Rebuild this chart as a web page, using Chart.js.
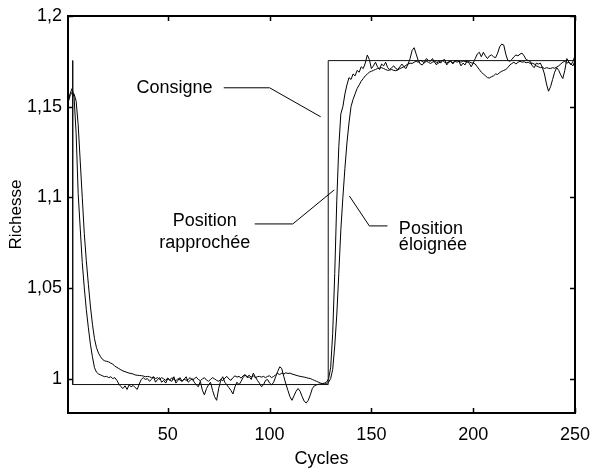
<!DOCTYPE html>
<html><head><meta charset="utf-8">
<script src="https://cdn.jsdelivr.net/npm/chart.js@4/dist/chart.umd.min.js"></script>
<style>html,body{margin:0;padding:0;background:#fff}#wrap{width:590px;height:471px;position:relative}</style>
</head><body><div id="wrap"><canvas id="c" width="590" height="471"></canvas></div>
<script>
// ---------- DATA ----------
const cycles = Array.from({length: 250}, (_, i) => i + 1);

const rapprochee = [
1.153,1.157,1.160,1.155,1.135,1.102,1.083,1.064,1.050,1.038,
1.028,1.019,1.012,1.006,1.0035,1.0025,1.002,1.0015,1.001,1.0012,
1.0005,1.001,1.000,1.0005,0.999,0.997,0.9955,0.9945,0.996,0.994,
0.9965,0.9955,0.9962,0.995,0.994,0.997,0.9995,1.0005,0.9995,1.000,
0.9985,0.9995,1.001,0.998,0.9995,1.0005,0.998,0.999,0.9975,1.000,
0.999,0.9985,1.001,0.9975,0.999,1.0005,0.9985,0.9995,1.001,0.998,
0.999,1.000,0.998,0.9965,0.9955,0.9985,0.9935,0.991,0.9945,0.9965,
0.998,0.9935,0.990,0.988,0.9945,0.999,1.001,0.998,0.9965,0.995,
0.9935,0.9915,0.9955,0.998,0.9965,0.9985,1.0005,1.002,1.0005,1.001,
0.9995,1.003,1.001,0.999,0.9975,0.9955,0.9965,0.999,0.9995,0.9975,
0.9965,0.998,1.001,1.004,1.0065,1.0055,1.001,0.997,0.9935,0.990,
0.988,0.9905,0.993,0.9945,0.993,0.990,0.9875,0.9865,0.988,0.991,
0.9945,0.996,0.9965,0.9968,0.997,0.9972,0.9975,0.998,1.000,1.006,
1.025,1.058,1.098,1.128,1.146,1.150,1.157,1.162,1.166,1.165,
1.168,1.167,1.170,1.169,1.172,1.171,1.174,1.1785,1.176,1.171,
1.1725,1.1745,1.172,1.1705,1.1735,1.1725,1.1745,1.1715,1.1705,1.1715,
1.1725,1.171,1.1705,1.172,1.1735,1.172,1.171,1.1735,1.1765,1.181,
1.1825,1.179,1.1755,1.1735,1.173,1.1745,1.1765,1.1755,1.175,1.1765,
1.1745,1.173,1.1755,1.174,1.1755,1.176,1.173,1.1745,1.175,1.1735,
1.1755,1.1745,1.175,1.1725,1.174,1.173,1.1755,1.174,1.172,1.174,
1.1765,1.179,1.180,1.1775,1.180,1.178,1.1765,1.178,1.1785,1.1775,
1.177,1.1795,1.183,1.1845,1.184,1.179,1.1755,1.175,1.176,1.1775,
1.1785,1.178,1.179,1.1795,1.178,1.176,1.1755,1.175,1.1725,1.1715,
1.174,1.1735,1.174,1.1715,1.168,1.1625,1.1585,1.161,1.165,1.169,
1.1715,1.170,1.1675,1.1655,1.170,1.1765,1.1745,1.173,1.175,1.178
];

const eloignee = [
1.152,1.156,1.158,1.157,1.153,1.140,1.120,1.100,1.080,1.065,
1.052,1.040,1.030,1.022,1.017,1.014,1.012,1.0105,1.0098,1.0095,
1.0092,1.0085,1.008,1.0068,1.0062,1.0055,1.0048,1.0042,1.0038,1.0034,
1.003,1.0028,1.0025,1.002,1.0018,1.0017,1.0016,1.0014,1.001,1.0012,
1.001,1.0005,1.0008,1.000,1.0005,0.9995,1.0005,0.9998,0.999,1.0003,
0.9992,1.0005,0.9995,0.9988,1.000,0.9992,0.9985,0.9998,0.999,0.9995,
1.0005,0.9992,0.9998,1.0008,0.9995,0.9988,0.9998,1.0005,0.9992,0.9985,
0.9995,1.0005,0.9998,0.999,0.9985,0.9995,0.9988,1.0002,1.0012,0.9998,
0.999,1.0005,1.0015,1.0008,1.0012,1.0002,1.0015,1.0022,1.001,1.0018,
1.0008,1.0015,1.0005,1.001,1.0012,1.0008,1.0012,1.0005,1.0012,1.0015,
1.0005,1.0012,1.002,1.0028,1.0022,1.003,1.0025,1.0032,1.0028,1.003,
1.0025,1.0022,1.0018,1.0015,1.0012,1.001,1.0008,1.0005,1.0002,1.000,
0.9995,0.999,0.9985,0.998,0.9975,0.9972,0.997,0.9972,0.998,1.000,
1.005,1.018,1.035,1.058,1.082,1.100,1.116,1.130,1.141,1.150,
1.154,1.157,1.160,1.162,1.164,1.1655,1.167,1.168,1.169,1.1695,
1.170,1.1705,1.171,1.1712,1.1715,1.171,1.1705,1.170,1.1702,1.1705,
1.170,1.1698,1.1702,1.171,1.1715,1.172,1.1728,1.1735,1.174,1.1738,
1.1745,1.175,1.1745,1.1755,1.175,1.1742,1.175,1.1745,1.1738,1.1745,
1.175,1.1745,1.174,1.1748,1.1755,1.1745,1.174,1.1748,1.175,1.1742,
1.1748,1.1755,1.175,1.1745,1.1752,1.175,1.1745,1.1748,1.1742,1.174,
1.1735,1.172,1.1705,1.169,1.168,1.167,1.166,1.1658,1.1665,1.167,
1.168,1.1678,1.1688,1.1695,1.170,1.1705,1.1715,1.173,1.1738,1.1745,
1.1735,1.1745,1.175,1.1745,1.1748,1.1742,1.1745,1.1738,1.174,1.1735,
1.1725,1.172,1.1715,1.1718,1.171,1.1715,1.1712,1.171,1.1715,1.1712,
1.1718,1.1725,1.1735,1.1745,1.175,1.174,1.1745,1.1735,1.1725,1.1755
];

// setpoint (step signal): cycles where it changes, and levels
const consigneX = [3.3, 3.3, 128.8, 128.8, 250];
const consigneY = [1.1754, 0.9967, 0.9967, 1.1754, 1.1754];

const xTickValues = [50, 100, 150, 200, 250];
const xTickLabels = ['50', '100', '150', '200', '250'];
const yTickValues = [1, 1.05, 1.1, 1.15, 1.2];
const yTickLabels = ['1', '1,05', '1,1', '1,15', '1,2'];

const seriesNames = ['Consigne', 'Position rapprochée', 'Position éloignée'];
// ---------- END DATA ----------

const FONT = 'Liberation Sans, Arial, Helvetica, sans-serif';

// annotation labels with leader lines, in data units
const annotations = [
  { lines: ['Consigne'], at: [72, 1.1604], align: 'right', lineGap: 0,
    leader: [[77.5, 1.1604], [100, 1.1604], [125.1, 1.1444]] },
  { lines: ['Position', 'rapprochée'], at: [68.2, 1.0869], align: 'center', lineGap: 22,
    leader: [[92.7, 1.0853], [111.4, 1.0853], [131.8, 1.1041]] },
  { lines: ['Position', 'éloignée'], at: [163.5, 1.0824], align: 'left', lineGap: 16,
    leader: [[139.2, 1.1007], [149, 1.0842], [157.9, 1.0842]] }
];

const framePlugin = {
  id: 'frame',
  afterDatasetsDraw(chart) {
    const ctx = chart.ctx, a = chart.chartArea;
    const xs = chart.scales.x, ys = chart.scales.y;
    ctx.save();
    ctx.strokeStyle = '#000';
    ctx.lineWidth = 2;
    ctx.strokeRect(a.left, a.top, a.right - a.left, a.bottom - a.top);
    ctx.lineWidth = 1.5;
    const T = 5;
    ctx.beginPath();
    xTickValues.forEach(v => {
      const px = Math.round(xs.getPixelForValue(v)) + 0.5;
      ctx.moveTo(px, a.bottom); ctx.lineTo(px, a.bottom - T);
      ctx.moveTo(px, a.top); ctx.lineTo(px, a.top + T);
    });
    yTickValues.forEach(v => {
      const py = Math.round(ys.getPixelForValue(v)) + 0.5;
      ctx.moveTo(a.left, py); ctx.lineTo(a.left + T, py);
      ctx.moveTo(a.right, py); ctx.lineTo(a.right - T, py);
    });
    ctx.stroke();

    // annotations
    ctx.lineWidth = 1;
    ctx.fillStyle = '#000';
    ctx.font = '18px ' + FONT;
    ctx.textBaseline = 'middle';
    annotations.forEach(an => {
      ctx.beginPath();
      an.leader.forEach((p, i) => {
        const px = xs.getPixelForValue(p[0]), py = ys.getPixelForValue(p[1]);
        if (i === 0) ctx.moveTo(px, py); else ctx.lineTo(px, py);
      });
      ctx.stroke();
      ctx.textAlign = an.align;
      const tx = xs.getPixelForValue(an.at[0]);
      const ty = ys.getPixelForValue(an.at[1]);
      an.lines.forEach((t, i) => ctx.fillText(t, tx, ty + i * an.lineGap));
    });
    ctx.restore();
  }
};

const lineStyle = { borderColor: '#000', borderWidth: 1, pointRadius: 0, tension: 0, fill: false };

new Chart(document.getElementById('c'), {
  type: 'line',
  data: {
    datasets: [
      Object.assign({ label: seriesNames[0], data: consigneX.map((x, i) => ({ x, y: consigneY[i] })) }, lineStyle, { borderColor: '#111' }),
      Object.assign({ label: seriesNames[1], data: cycles.map((x, i) => ({ x, y: rapprochee[i] })) }, lineStyle),
      Object.assign({ label: seriesNames[2], data: cycles.map((x, i) => ({ x, y: eloignee[i] })) }, lineStyle)
    ]
  },
  options: {
    responsive: false,
    animation: false,
    events: [],
    layout: { padding: { top: 16, right: 15, left: 0, bottom: 0 } },
    plugins: { legend: { display: false }, tooltip: { enabled: false } },
    scales: {
      x: {
        type: 'linear', min: 1, max: 250,
        afterFit(s) { s.height = 58; s.paddingLeft = 0; s.paddingRight = 0; },
        afterBuildTicks(s) { s.ticks = xTickValues.map(v => ({ value: v })); },
        grid: { display: false, drawTicks: false },
        border: { display: false },
        ticks: {
          color: '#000', padding: 11, maxRotation: 0, autoSkip: false,
          font: { family: FONT, size: 18 },
          callback: v => xTickLabels[xTickValues.indexOf(v)]
        },
        title: { display: true, text: 'Cycles', color: '#000', font: { family: FONT, size: 18 }, padding: { top: 0, bottom: 1 } }
      },
      y: {
        type: 'linear', min: 0.981, max: 1.2,
        afterFit(s) { s.width = 68; s.paddingTop = 0; s.paddingBottom = 0; },
        afterBuildTicks(s) { s.ticks = yTickValues.map(v => ({ value: v })); },
        grid: { display: false, drawTicks: false },
        border: { display: false },
        ticks: {
          color: '#000', padding: 6, autoSkip: false,
          font: { family: FONT, size: 18 },
          callback: v => yTickLabels[yTickValues.indexOf(v)]
        },
        title: { display: true, text: 'Richesse', color: '#000', font: { family: FONT, size: 17 }, padding: { top: 6, bottom: 0 } }
      }
    }
  },
  plugins: [framePlugin]
});
</script>
</body></html>
